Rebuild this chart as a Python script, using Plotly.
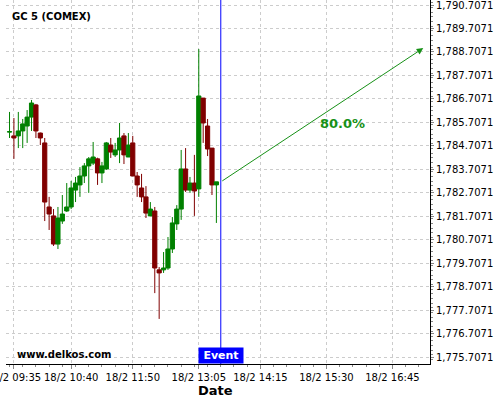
import pandas as pd
import plotly.graph_objects as go

# ---- data ----
start_time = "2021-02-18 09:30"
opens = [1785.29, 1785.13, 1785.13, 1785.34, 1785.55, 1785.93, 1786.45, 1785.25, 1784.83, 1782.10,
         1781.72, 1780.52, 1781.50, 1781.93, 1782.10, 1782.82, 1783.04, 1783.42, 1783.85, 1783.97,
         1784.15, 1783.55, 1783.72, 1784.74, 1784.32, 1784.53, 1785.13, 1784.23, 1784.83, 1783.42,
         1782.91, 1782.53, 1781.72, 1781.93, 1779.42, 1779.42, 1779.50, 1780.31, 1781.38, 1782.01,
         1783.72, 1782.82, 1783.12, 1782.87, 1786.74, 1785.55, 1784.61, 1783.04]
highs = [1786.15, 1785.89, 1786.15, 1785.85, 1786.23, 1786.66, 1786.49, 1785.27, 1785.04, 1782.53,
         1782.01, 1782.10, 1782.61, 1783.12, 1783.21, 1783.38, 1783.80, 1783.97, 1784.23, 1784.87,
         1784.20, 1784.02, 1784.87, 1785.04, 1784.83, 1785.68, 1785.25, 1785.25, 1785.13, 1783.59,
         1783.51, 1782.99, 1782.31, 1782.10, 1779.54, 1780.18, 1780.82, 1781.67, 1782.18, 1784.53,
         1784.61, 1783.38, 1784.32, 1788.83, 1786.74, 1785.85, 1784.61, 1783.17]
lows = [1785.04, 1784.15, 1784.61, 1784.61, 1784.83, 1785.34, 1785.04, 1784.74, 1781.50, 1781.12,
        1780.44, 1780.31, 1781.38, 1781.89, 1782.01, 1782.31, 1782.53, 1783.12, 1782.70, 1783.89,
        1783.04, 1783.12, 1783.68, 1784.19, 1784.23, 1783.97, 1783.93, 1784.23, 1783.42, 1782.53,
        1782.31, 1781.63, 1781.72, 1778.43, 1777.33, 1779.29, 1779.42, 1780.14, 1781.12, 1781.55,
        1782.74, 1782.70, 1781.72, 1782.53, 1784.83, 1784.27, 1782.61, 1781.42]
closes = [1785.31, 1785.04, 1785.34, 1785.64, 1785.93, 1786.53, 1785.34, 1785.04, 1782.31, 1781.80,
          1780.52, 1781.63, 1781.80, 1782.10, 1782.91, 1783.12, 1783.42, 1783.85, 1784.15, 1784.23,
          1783.55, 1783.85, 1784.83, 1784.44, 1784.53, 1785.04, 1784.32, 1784.74, 1783.42, 1783.04,
          1782.53, 1781.84, 1782.01, 1779.50, 1779.29, 1779.50, 1780.31, 1781.42, 1782.01, 1783.72,
          1782.82, 1783.12, 1782.78, 1786.83, 1785.68, 1784.57, 1783.04, 1783.17]
times = pd.date_range(start_time, periods=len(opens), freq="5min")

event_time = "2021-02-18 13:30"
target_time = "2021-02-18 17:20"
target_price = 1788.87
target_label = "80.0%"
label_time = "2021-02-18 15:48"
label_price = 1785.64

x_tick_vals = ["2021-02-18 09:35", "2021-02-18 10:40", "2021-02-18 11:50", "2021-02-18 13:05",
               "2021-02-18 14:15", "2021-02-18 15:30", "2021-02-18 16:45"]
x_tick_text = ["18/2 09:35", "18/2 10:40", "18/2 11:50", "18/2 13:05",
               "18/2 14:15", "18/2 15:30", "18/2 16:45"]
y_tick_vals = [1775.7071 + k for k in range(16)]
y_tick_text = [f"{v:,.4f}" for v in y_tick_vals]
x_range = ["2021-02-18 09:26", "2021-02-18 17:27:40"]
y_range = [1775.409, 1790.920]

FONT = "DejaVu Sans"
GREEN = "#008000"
RED = "#800000"
ARROW_GREEN = "#179117"

fig = go.Figure()
fig.add_trace(go.Candlestick(
    x=times, open=opens, high=highs, low=lows, close=closes,
    increasing=dict(line=dict(color=GREEN, width=1), fillcolor=GREEN),
    decreasing=dict(line=dict(color=RED, width=1), fillcolor=RED),
    whiskerwidth=0, showlegend=False, hoverinfo="skip",
))

fig.add_shape(type="line", xref="x", yref="paper", x0=event_time, x1=event_time,
              y0=0, y1=1, line=dict(color="#0000ff", width=1))

fig.add_annotation(x=target_time, y=target_price, ax=event_time, ay=closes[-1],
                   xref="x", yref="y", axref="x", ayref="y", text="", showarrow=True,
                   arrowhead=2, arrowsize=1.3, arrowwidth=1, arrowcolor=ARROW_GREEN)
fig.add_annotation(x=label_time, y=label_price, xref="x", yref="y", text="<b>" + target_label + "</b>",
                   showarrow=False, font=dict(family=FONT, size=13, color=ARROW_GREEN))
fig.add_annotation(x=event_time, y=0, xref="x", yref="paper", yanchor="bottom",
                   text="<b>Event</b>", showarrow=False, bgcolor="#0000ff", borderpad=2,
                   width=40, height=11,
                   font=dict(family=FONT, size=11, color="white"))
fig.add_annotation(x=0.0094, y=0.956, xref="paper", yref="paper", xanchor="left", yanchor="middle",
                   text="<b>GC 5 (COMEX)</b>", showarrow=False,
                   font=dict(family=FONT, size=10, color="black"))
fig.add_annotation(x=0.021, y=0.027, xref="paper", yref="paper", xanchor="left", yanchor="middle",
                   text="<b>www.delkos.com</b>", showarrow=False,
                   font=dict(family=FONT, size=10, color="black"))
fig.add_annotation(x=0.495, y=0, xref="paper", yref="paper", yshift=-26, xanchor="center",
                   yanchor="middle", text="<b>Date</b>", showarrow=False,
                   font=dict(family=FONT, size=13, color="black"))

grid = dict(showgrid=True, gridcolor="#cccccc", gridwidth=1, griddash="3px,3px")
fig.update_xaxes(type="date", range=x_range, tickvals=x_tick_vals, ticktext=x_tick_text,
                 tickfont=dict(family=FONT, size=10, color="black"), automargin=False,
                 ticklabeloverflow="allow",
                 showline=True, linecolor="black", linewidth=1, ticks="outside", ticklen=4,
                 tickcolor="#888888", mirror=False, rangeslider=dict(visible=False),
                 minor=dict(ticks="outside", ticklen=2, tickcolor="#888888", dtick=15 * 60 * 1000, showgrid=False),
                 **grid)
fig.update_yaxes(side="right", range=y_range, tickvals=y_tick_vals, ticktext=y_tick_text,
                 tickfont=dict(family=FONT, size=10, color="black"), automargin=False,
                 ticklabeloverflow="allow",
                 showline=True, linecolor="black", linewidth=1, ticks="outside", ticklen=3,
                 tickcolor="#888888",
                 minor=dict(ticks="outside", ticklen=2, tickcolor="#888888", dtick=0.2, showgrid=False),
                 **grid)

fig.update_layout(width=500, height=400, margin=dict(l=6, r=70, t=0, b=36),
                  paper_bgcolor="white", plot_bgcolor="white", boxgap=0, boxgroupgap=0.05,
                  font=dict(family=FONT), showlegend=False)
fig.write_html("out.html", config={"displayModeBar": False},
               post_script="document.body.style.margin='0';")
